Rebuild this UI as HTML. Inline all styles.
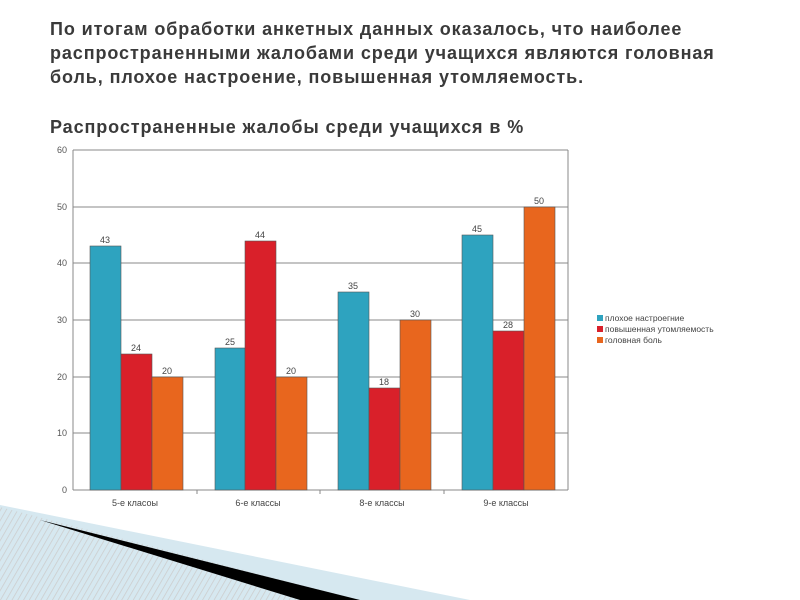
<!DOCTYPE html>
<html><head><meta charset="utf-8"><style>
body{margin:0;width:800px;height:600px;background:#fff;overflow:hidden;position:relative;font-family:"Liberation Sans",sans-serif}
.t{position:absolute;left:50px;font-weight:bold;font-size:18px;letter-spacing:0.9px;color:#3a3a3a;line-height:24px;white-space:nowrap}
</style></head><body>
<div class="t" style="top:17px">По итогам обработки анкетных данных оказалось, что наиболее<br>распространенными жалобами среди учащихся являются головная<br>боль, плохое настроение, повышенная утомляемость.</div>
<div class="t" style="top:115px">Распространенные жалобы среди учащихся в %</div>
<svg width="800" height="600" style="position:absolute;left:0;top:0" font-family="Liberation Sans, sans-serif">
<defs><pattern id="h" width="5" height="5" patternUnits="userSpaceOnUse" patternTransform="rotate(30)"><line x1="0" y1="0" x2="0" y2="5" stroke="#ccc" stroke-width="1.5"/></pattern></defs>
<polygon points="0,505 470,600 0,600" fill="#d6e8f0"/>
<polygon points="0,507 360,600 0,600" fill="url(#h)"/>
<polygon points="40,520 200,560 360,600 300,600" fill="#000"/>
<g stroke="#888" stroke-width="1">
<line x1="73" y1="150" x2="568" y2="150"/><line x1="73" y1="207" x2="568" y2="207"/><line x1="73" y1="263" x2="568" y2="263"/><line x1="73" y1="320" x2="568" y2="320"/><line x1="73" y1="377" x2="568" y2="377"/><line x1="73" y1="433" x2="568" y2="433"/><line x1="73" y1="490" x2="568" y2="490"/>
<line x1="73" y1="150" x2="73" y2="490"/><line x1="568" y1="150" x2="568" y2="490"/>
<line x1="197" y1="490" x2="197" y2="494"/><line x1="320" y1="490" x2="320" y2="494"/><line x1="444" y1="490" x2="444" y2="494"/>
</g>
<g font-size="9" fill="#555" text-anchor="end">
<text x="67" y="153">60</text><text x="67" y="210">50</text><text x="67" y="266">40</text><text x="67" y="323">30</text><text x="67" y="380">20</text><text x="67" y="436">10</text><text x="67" y="493">0</text>
</g>
<g stroke="#555" stroke-width="0.6">
<rect x="90" y="246" width="31" height="244" fill="#2ea3bf"/><rect x="121" y="354" width="31" height="136" fill="#d9202a"/><rect x="152" y="377" width="31" height="113" fill="#e8661e"/>
<rect x="215" y="348" width="30" height="142" fill="#2ea3bf"/><rect x="245" y="241" width="31" height="249" fill="#d9202a"/><rect x="276" y="377" width="31" height="113" fill="#e8661e"/>
<rect x="338" y="292" width="31" height="198" fill="#2ea3bf"/><rect x="369" y="388" width="31" height="102" fill="#d9202a"/><rect x="400" y="320" width="31" height="170" fill="#e8661e"/>
<rect x="462" y="235" width="31" height="255" fill="#2ea3bf"/><rect x="493" y="331" width="31" height="159" fill="#d9202a"/><rect x="524" y="207" width="31" height="283" fill="#e8661e"/>
</g>
<g font-size="9" fill="#444" text-anchor="middle">
<text x="105" y="243">43</text><text x="136" y="351">24</text><text x="167" y="374">20</text>
<text x="230" y="345">25</text><text x="260" y="238">44</text><text x="291" y="374">20</text>
<text x="353" y="289">35</text><text x="384" y="385">18</text><text x="415" y="317">30</text>
<text x="477" y="232">45</text><text x="508" y="328">28</text><text x="539" y="204">50</text>
<text x="135" y="506">5-е класоы</text><text x="258" y="506">6-е  классы</text><text x="382" y="506">8-е классы</text><text x="506" y="506">9-е классы</text>
</g>
<g font-size="8.5" fill="#444">
<rect x="597" y="315" width="6" height="6" fill="#2ea3bf"/><text x="605" y="321">плохое настроегние</text>
<rect x="597" y="326" width="6" height="6" fill="#d9202a"/><text x="605" y="332">повышенная утомляемость</text>
<rect x="597" y="337" width="6" height="6" fill="#e8661e"/><text x="605" y="343">головная боль</text>
</g>
</svg>
</body></html>
